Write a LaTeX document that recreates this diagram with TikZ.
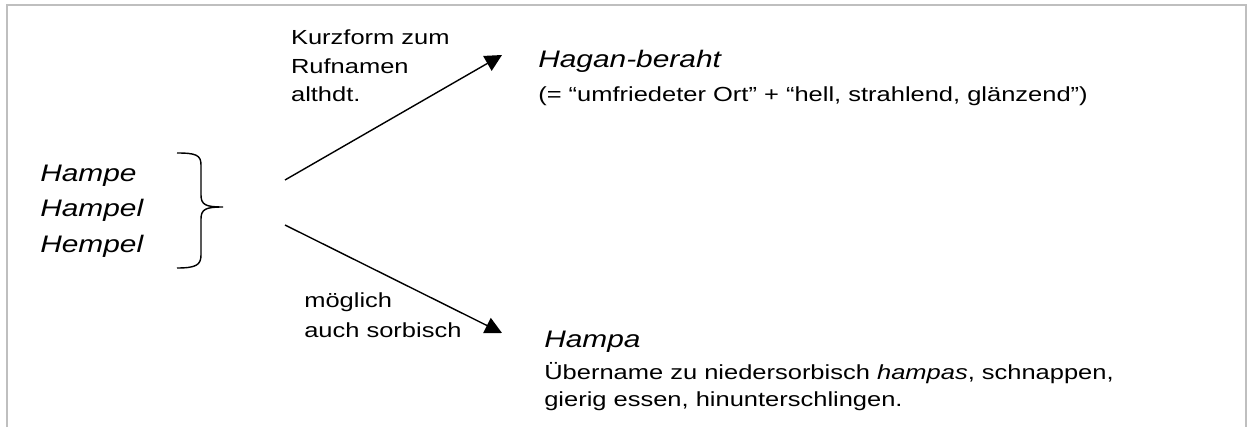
\documentclass[tikz,border=0pt]{standalone}
\usepackage{fontspec}
\setmainfont{Liberation Sans}[FakeStretch=1.25]
\usetikzlibrary{arrows.meta}

\tikzset{
	wort/.style={font=\fontsize{17}{19}\selectfont\itshape, anchor=base west, inner sep=0pt},
	erkl/.style={font=\fontsize{14.5}{17}\selectfont, anchor=base west, inner sep=0pt},
	pfeil/.style={-{Triangle[length=12pt,width=12pt]}, line width=1pt},
	rahmen/.style={draw=black!25, line width=1.4pt}
}

\begin{document}
\begin{tikzpicture}
	\useasboundingbox (0,0) rectangle (31.2,10.675);
	\draw[rahmen] (0.175,0) -- (0.175,10.55) -- (31.15,10.55) -- (31.15,0);

	% Namensformen
	\node[wort] (hampe) at (1.0,6.125) {Hampe};
	\node[wort] (hampel) at (1.0,5.25) {Hampel};
	\node[wort] (hempel) at (1.0,4.35) {Hempel};

	\draw[line width=1pt] (4.425,6.85) .. controls (4.9,6.85) and (5.025,6.8) .. (5.025,6.55)
		-- (5.025,5.8) .. controls (5.025,5.55) and (5.15,5.5) .. (5.575,5.5)
		.. controls (5.15,5.5) and (5.025,5.45) .. (5.025,5.2)
		-- (5.025,4.3) .. controls (5.025,4.05) and (4.9,3.975) .. (4.425,3.975);

	% Pfeile
	\coordinate (oben-start) at (7.125,6.175);
	\coordinate (oben-ziel) at (12.55,9.3);
	\coordinate (unten-start) at (7.125,5.05);
	\coordinate (unten-ziel) at (12.55,2.35);
	\draw[pfeil] (oben-start) -- (oben-ziel);
	\draw[pfeil] (unten-start) -- (unten-ziel);

	\node[erkl] (kurz1) at (7.27,9.55) {Kurzform zum};
	\node[erkl] (kurz2) at (7.27,8.825) {Rufnamen};
	\node[erkl] (kurz3) at (7.27,8.125) {althdt.};

	\node[erkl] (sorb1) at (7.6,3.0) {möglich};
	\node[erkl] (sorb2) at (7.6,2.25) {auch sorbisch};

	% Deutungen
	\node[wort] (hagan) at (13.45,8.975) {Hagan-beraht};
	\node[erkl] (hagan-erkl) at (13.45,8.125) {(= “umfriedeter Ort” + “hell, strahlend, glänzend”)};

	\node[wort] (hampa) at (13.6,2.0) {Hampa};
	\node[erkl] (hampa-erkl1) at (13.6,1.2) {Übername zu niedersorbisch \textit{hampas}, schnappen,};
	\node[erkl] (hampa-erkl2) at (13.6,0.525) {gierig essen, hinunterschlingen.};
\end{tikzpicture}
\end{document}
